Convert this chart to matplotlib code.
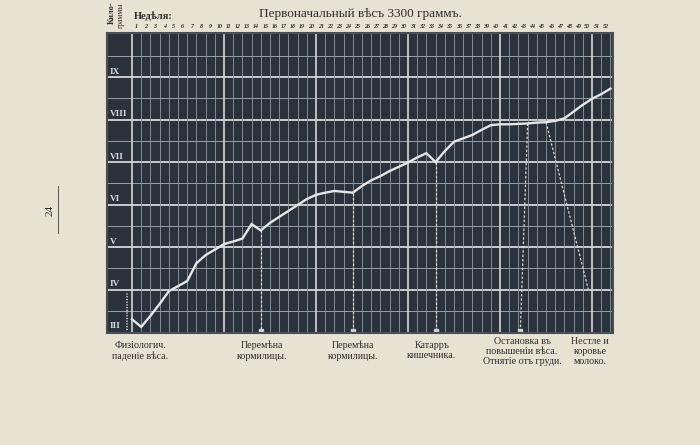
import matplotlib
matplotlib.use("Agg")
import matplotlib.pyplot as plt
import numpy as np

# ---------------- data ----------------
weeks = list(range(0, 53))
weight_kg = [3.30, 3.12, 3.38, 3.66, 3.96, 4.08, 4.20, 4.62, 4.81, 4.94,
             5.07, 5.13, 5.20, 5.54, 5.39, 5.57, 5.71, 5.85, 5.99, 6.13,
             6.23, 6.28, 6.32, 6.30, 6.28, 6.44, 6.57, 6.67, 6.79, 6.89,
             6.99, 7.11, 7.21, 7.00, 7.26, 7.48, 7.56, 7.64, 7.76, 7.87,
             7.89, 7.89, 7.90, 7.91, 7.93, 7.94, 7.97, 8.03, 8.19, 8.35,
             8.49, 8.60, 8.73]
week_labels = [str(i) for i in range(1, 53)]
kg_labels = ["III", "IV", "V", "VI", "VII", "VIII", "IX"]
kg_values = [3, 4, 5, 6, 7, 8, 9]

# dashed event lines: start week on curve -> end point
event_start_week = [14, 24, 33, 43, 45]
event_end_week = [14, 24, 33, 42.2, 49.6]
event_end_kg = [2.98, 2.98, 2.98, 2.98, 4.0]

event_texts = ["Физiологич.\nпаденiе вѣса.",
               "Перемѣна\nкормилицы.",
               "Перемѣна\nкормилицы.",
               "Катарръ\nкишечника.",
               "Остановка въ\nповышенiи вѣса.\nОтнятiе отъ груди.",
               "Нестле и\nкоровье\nмолоко."]
event_text_week = [0.9, 14.1, 24.0, 32.6, 42.4, 49.8]

title = "Первоначальный вѣсъ 3300 граммъ."

# ---------------- style ----------------
paper = "#e8e2d3"
board = "#2a333c"
ink = "#2e2e2e"
serif = ["Liberation Serif", "DejaVu Serif"]
plt.rcParams["font.family"] = serif

W, H = 700, 445
fig = plt.figure(figsize=(7, 4.45), dpi=100, facecolor=paper)


def fx(x):
    return x / W


def fy(y):
    return 1 - y / H


ax = fig.add_axes([fx(107), fy(333), (613 - 107) / W, (333 - 33) / H])
ax.set_facecolor(board)
xmin, xmax = -2.72, 52.28
ymin, ymax = 2.976, 10.04
ax.set_xlim(xmin, xmax)
ax.set_ylim(ymin, ymax)
for s in ax.spines.values():
    s.set_color("#4a4f53")
    s.set_linewidth(1.5)
ax.set_xticks([])
ax.set_yticks([])

# horizontal grid
for v in np.arange(3.5, 10.0, 0.5):
    major = abs(v - round(v)) < 1e-6
    ax.axhline(v, color="#d3d7d9" if major else "#98a1a8",
               lw=1.3 if major else 0.7, zorder=1)
# vertical grid
for k in range(0, 53):
    major = k % 10 == 0
    ax.plot([k, k], [ymin, ymax], color="#d3d7d9" if major else "#8f989f",
            lw=1.2 if major else 0.6, zorder=1, solid_capstyle="butt")

# roman numerals
for v, lab in zip(kg_values, kg_labels):
    ax.text(-2.45, v + 0.13, lab, color="#dcdcdc", fontsize=6.6,
            fontweight="bold", ha="left", va="center", zorder=3)

# small ruler at left
ax.plot([-0.55, -0.55], [3.05, 3.95], color="#bfc4c8", lw=1.4,
        ls=(0, (0.6, 0.8)), zorder=2)

# dashed event lines
for sw, ew, ek in zip(event_start_week, event_end_week, event_end_kg):
    ax.plot([sw, ew], [weight_kg[sw], ek], color="#d6d8da", lw=0.9,
            ls=(0, (2.0, 1.5)), zorder=2)
    if ek < 3.0:
        ax.plot([ew], [3.03], marker="s", ms=2.5, color="#cfd2d4", zorder=2)

# curve
ax.plot(weeks, weight_kg, color="#e4e6e7", lw=1.7, zorder=4,
        solid_joinstyle="miter")

# ---------------- texts outside ----------------
fig.text(fx(360), fy(14), title, fontsize=9.5, color=ink,
         ha="center", va="center")
fig.text(fx(134), fy(16), "Недѣля:", fontsize=7.5, color=ink,
         fontweight="bold", ha="left", va="center")
fig.text(fx(112), fy(13), "Кило-", fontsize=6, color=ink, rotation=90,
         fontweight="bold", ha="center", va="center")
fig.text(fx(121), fy(15), "граммы", fontsize=5.5, color=ink, rotation=90,
         ha="center", va="center")

# week numbers on top (centered in columns)
for i, lab in enumerate(week_labels):
    xk = i + 0.5
    xp = 107 + (xk - xmin) / (xmax - xmin) * 506
    fig.text(fx(xp), fy(27), lab, fontsize=4.3, color=ink, style="italic",
             fontweight="bold", ha="center", va="center")

# event labels below
for t, wk in zip(event_texts, event_text_week):
    xp = 107 + (wk - xmin) / (xmax - xmin) * 506
    ytop = 337 if t.count("\n") >= 2 else 341
    fig.text(fx(xp), fy(ytop), t, fontsize=7.2, color=ink, ha="center",
             va="top", linespacing=1.15)

# page number
fig.text(fx(50), fy(210), "24", fontsize=8, color=ink, rotation=90,
         ha="center", va="center")
fig.add_artist(plt.Line2D([fx(58), fx(58)], [fy(186), fy(233)],
                          color="#555555", lw=0.7))

fig.savefig("out.png", dpi=100, facecolor=paper)
